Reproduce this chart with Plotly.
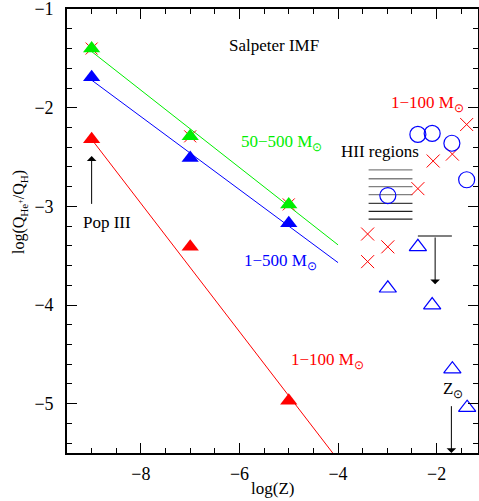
import plotly.graph_objects as go

# ---- model grid (log Z) ----
model_logz = [-9, -7, -5]
q_50_500 = [-1.40, -2.29, -2.98]
q_1_500 = [-1.69, -2.51, -3.17]
q_1_100 = [-2.32, -3.41, -4.97]

# ---- linear fits (log Z endpoints and values) ----
fit_x = [-9, -4]
fit_50_500 = [-1.43, -3.39]
fit_1_500 = [-1.72, -3.57]
fit_1_100 = [-2.32, -5.57]

# ---- observed data ----
obs_x_cross = [-1.39, -2.07, -1.68, -2.38, -3.40, -2.99, -3.40]
obs_y_cross = [-2.17, -2.54, -2.47, -2.82, -3.28, -3.41, -3.56]
obs_x_circ = [-2.38, -2.09, -1.69, -1.39, -2.99]
obs_y_circ = [-2.27, -2.26, -2.36, -2.73, -2.89]
obs_x_tri = [-2.38, -2.99, -2.09, -1.68, -1.38]
obs_y_tri = [-3.41, -3.83, -4.00, -4.65, -5.04]

# ---- HII region bars ----
hii_x = [-3.38, -2.49]
hii_y = [-2.63, -2.72, -2.80, -2.88, -2.97, -3.05, -3.13]
hii_col = ["#808080", "#808080", "#808080", "#808080", "#404040", "#202020", "#202020"]

# upper limit
lim_x = [-2.38, -1.69]
lim_y = -3.30
lim_arrow_x = -2.03
lim_arrow_y = -3.79

log_zsun = -1.70

RED, GREEN, BLUE = "#FF0000", "#00EE00", "#0000FF"
FONT = "Liberation Serif"

fig = go.Figure()

for fy, c in [(fit_50_500, GREEN), (fit_1_500, BLUE), (fit_1_100, RED)]:
    fig.add_trace(go.Scatter(x=fit_x, y=fy, mode="lines", line=dict(color=c, width=1),
                             hoverinfo="skip", showlegend=False))

for hy, hc in zip(hii_y, hii_col):
    fig.add_trace(go.Scatter(x=hii_x, y=[hy, hy], mode="lines", line=dict(color=hc, width=1.3),
                             showlegend=False))

fig.add_trace(go.Scatter(x=lim_x, y=[lim_y, lim_y], mode="lines", line=dict(color="black", width=1.2),
                         showlegend=False))

# red crosses behind green triangles
fig.add_trace(go.Scatter(x=model_logz, y=q_50_500, mode="markers",
                         marker=dict(symbol="x-thin-open", size=12, color=RED, line=dict(color=RED, width=1)),
                         showlegend=False))

for qy, c in [(q_1_100, RED), (q_1_500, BLUE), (q_50_500, GREEN)]:
    fig.add_trace(go.Scatter(x=model_logz, y=qy, mode="markers",
                             marker=dict(symbol="triangle-up", size=15, color=c, line=dict(width=0)),
                             showlegend=False))

fig.add_trace(go.Scatter(x=obs_x_cross, y=obs_y_cross, mode="markers",
                         marker=dict(symbol="x-thin-open", size=13, color=RED, line=dict(color=RED, width=1)),
                         showlegend=False))
fig.add_trace(go.Scatter(x=obs_x_circ, y=obs_y_circ, mode="markers",
                         marker=dict(symbol="circle-open", size=16, color=BLUE, line=dict(color=BLUE, width=1.2)),
                         showlegend=False))
fig.add_trace(go.Scatter(x=obs_x_tri, y=obs_y_tri, mode="markers",
                         marker=dict(symbol="triangle-up-open", size=15, color=BLUE, line=dict(color=BLUE, width=1.2)),
                         showlegend=False))

msun = "M<sub>⊙</sub>"
ann = [
    dict(x=-5.29, y=-1.37, text="Salpeter IMF", xanchor="center", font=dict(color="black")),
    dict(x=-6.0, y=-2.36, text="50−500 " + msun, xanchor="left", font=dict(color=GREEN)),
    dict(x=-5.95, y=-3.56, text="1−500 " + msun, xanchor="left", font=dict(color=BLUE)),
    dict(x=-4.99, y=-4.57, text="1−100 " + msun, xanchor="left", font=dict(color=RED)),
    dict(x=-2.96, y=-1.96, text="1−100 " + msun, xanchor="left", font=dict(color=RED)),
    dict(x=-3.98, y=-2.44, text="HII regions", xanchor="left", font=dict(color="black")),
    dict(x=-8.68, y=-3.16, text="Pop III", xanchor="center", font=dict(color="black")),
    dict(x=-1.66, y=-4.86, text="Z<sub>⊙</sub>", xanchor="center", font=dict(color="black")),
]
annotations = []
for a in ann:
    a.update(xref="x", yref="y", showarrow=False, yanchor="middle")
    a["font"].update(family=FONT, size=17)
    annotations.append(a)

arrow_common = dict(xref="x", yref="y", axref="x", ayref="y", showarrow=True, text="",
                    arrowhead=1, arrowsize=1.6, arrowwidth=1, arrowcolor="black")
annotations.append(dict(x=-9, y=-2.49, ax=-9, ay=-2.99, **arrow_common))
annotations.append(dict(x=lim_arrow_x, y=lim_arrow_y, ax=lim_arrow_x, ay=lim_y, **arrow_common))
annotations.append(dict(x=log_zsun, y=-5.5, ax=log_zsun, ay=-5.01, **arrow_common))

annotations.append(dict(xref="paper", yref="paper", x=0.5, y=-0.079, text="log(Z)", showarrow=False,
                        xanchor="center", yanchor="middle", font=dict(family=FONT, size=17, color="black")))
annotations.append(dict(xref="paper", yref="paper", x=-0.114, y=0.543,
                        text="log(Q<sub>He<sup>+</sup></sub>/Q<sub>H</sub>)", textangle=-90,
                        showarrow=False, xanchor="center", yanchor="middle",
                        font=dict(family=FONT, size=16, color="black")))

axis_common = dict(showline=True, linecolor="black", linewidth=1.6, mirror="allticks",
                   ticks="inside", ticklen=10, tickwidth=1, tickcolor="black",
                   showgrid=False, zeroline=False, automargin=False, ticklabeloverflow="allow",
                   tickfont=dict(family=FONT, size=18, color="black"))

fig.update_layout(
    width=479, height=501,
    margin=dict(l=67, r=1, t=9, b=48),
    plot_bgcolor="white", paper_bgcolor="white",
    showlegend=False,
    annotations=annotations,
    xaxis=dict(range=[-9.5, -1.16], tick0=-8, dtick=2, ticklabelstandoff=4,
               minor=dict(dtick=0.5, ticks="inside", ticklen=5, tickcolor="black", showgrid=False),
               **axis_common),
    yaxis=dict(range=[-5.5, -0.999], tick0=-1, dtick=1, ticklabelstandoff=8,
               minor=dict(dtick=0.2, ticks="inside", ticklen=5, tickcolor="black", showgrid=False),
               **axis_common),
)

fig.write_html("out.html", config={"displayModeBar": False},
               post_script="document.body.style.margin='0';document.body.style.overflow='hidden';")
